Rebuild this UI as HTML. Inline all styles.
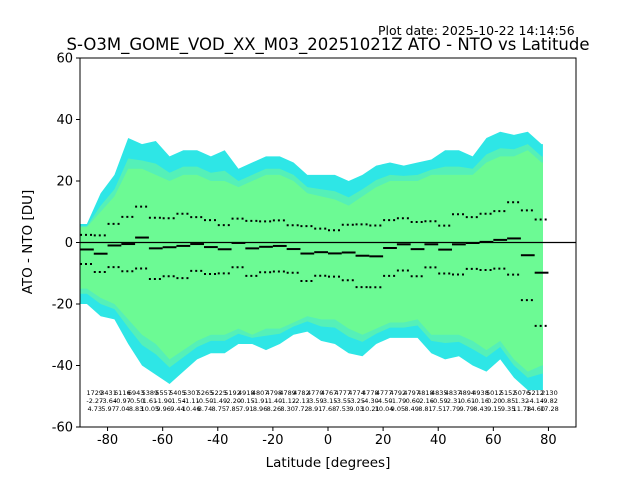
<!DOCTYPE html>
<html><head><meta charset="utf-8"><style>
body{margin:0;background:#fff}
svg{display:block;font-family:"DejaVu Sans","Liberation Sans",sans-serif}
</style></head><body>
<svg id="chart" width="640" height="480">
<text x="378" y="35" font-size="12.5">Plot date: 2025-10-22 14:14:56</text>
<text x="328" y="50" font-size="16.5" text-anchor="middle">S-O3M_GOME_VOD_XX_M03_20251021Z ATO - NTO vs Latitude</text>
<g id="plot"></g>
<text x="328" y="467" font-size="13.5" text-anchor="middle">Latitude [degrees]</text>
<text x="32" y="242" font-size="13.5" text-anchor="middle" transform="rotate(-90 32 242)">ATO - NTO [DU]</text>
</svg>
<script>
const binStart=[-90,-85,-80,-75,-70,-65,-60,-55,-50,-45,-40,-35,-30,-25,-20,-15,-10,-5,0,5,10,15,20,25,30,35,40,45,50,55,60,65,70,75];
const counts=[1729,3431,6116,6943,5389,5557,5405,5307,5265,5225,5192,4918,4807,4798,4789,4782,4770,4767,4777,4774,4778,4777,4792,4797,4818,4835,4837,4894,4938,5012,5152,5076,5212,2130];
const means=[-2.27,-3.64,-0.97,-0.50,1.61,-1.90,-1.54,-1.11,-0.50,-1.49,-2.20,-0.15,-1.91,-1.40,-1.12,-2.13,-3.59,-3.15,-3.55,-3.25,-4.30,-4.50,-1.79,-0.60,-2.16,-0.59,-2.31,-0.61,-0.16,0.20,0.85,1.32,-4.14,-9.82];
const stds=[4.73,5.97,7.04,8.83,10.05,9.96,9.44,10.46,8.74,8.75,7.85,7.91,8.96,8.26,8.30,7.72,8.91,7.68,7.53,9.03,10.21,10.04,9.05,8.49,8.81,7.51,7.79,9.79,8.43,9.15,9.35,11.78,14.60,17.28];
const maxVals=[6,16,22,34,32,33,28,30,30,28,30,24,26,28,28,26,22,22,22,20,22,25,26,25,26,27,30,30,28,34,36,35,36,32];
const minVals=[-20,-24,-25,-33,-40,-43,-46,-42,-38,-36,-36,-33,-33,-35,-33,-30,-29,-32,-33,-36,-37,-33,-31,-31,-31,-36,-38,-37,-40,-42,-38,-44,-48,-48];
const coreHi=[5,10,15,24,24,22,20,22,22,20,20,18,20,22,22,20,16,15,14,12,15,18,20,20,20,22,22,22,22,26,28,28,30,26];
const coreLo=[-15,-18,-20,-25,-30,-33,-38,-35,-32,-30,-30,-28,-30,-28,-28,-26,-24,-25,-25,-28,-30,-28,-26,-26,-25,-30,-30,-30,-32,-35,-32,-38,-42,-40];
const xTicks=[-80,-60,-40,-20,0,20,40,60,80];
const yTicks=[-60,-40,-20,0,20,40,60];

const L=80,R=576,T=58,B=427;
const xs=v=>L+(v+90)/180*(R-L);
const ys=v=>T+(60-v)/120*(B-T);
const NS='http://www.w3.org/2000/svg';
const g=document.getElementById('plot');
function mk(tag,attrs,parent){const e=document.createElementNS(NS,tag);for(const k in attrs)e.setAttribute(k,attrs[k]);(parent||g).appendChild(e);return e;}

function band(hi,lo){
  const n=binStart.length;let pts=[];
  pts.push(xs(binStart[0])+','+ys(hi[0]));
  binStart.forEach((b,i)=>pts.push(xs(b+2.5)+','+ys(hi[i])));
  pts.push(xs(binStart[n-1]+3)+','+ys(hi[n-1]));
  pts.push(xs(binStart[n-1]+3)+','+ys(lo[n-1]));
  for(let i=n-1;i>=0;i--)pts.push(xs(binStart[i]+2.5)+','+ys(lo[i]));
  pts.push(xs(binStart[0])+','+ys(lo[0]));
  return pts.join(' ');
}
const outer=mk('polygon',{points:band(maxVals,minVals),fill:'#2ee6e6'});


const mid=mk('polygon',{points:band(maxVals.map((v,i)=>(v+coreHi[i]*2)/3),minVals.map((v,i)=>(v+coreLo[i]*2)/3)),fill:'#55f0b8'});


const core=mk('polygon',{points:band(coreHi,coreLo),fill:'#6cfa94'});



const z=mk('line',{x1:L,x2:R,y1:ys(0),y2:ys(0),stroke:'#000','stroke-width':1.2});



binStart.forEach((b,i)=>{
  const m=mk('line',{x1:xs(b),x2:xs(b+5),y1:ys(means[i]),y2:ys(means[i]),stroke:'#000','stroke-width':2});
  
  
  [1,-1].forEach(s=>{
    const d=mk('line',{x1:xs(b),x2:xs(b+5),y1:ys(means[i]+s*stds[i]),y2:ys(means[i]+s*stds[i]),stroke:'#000','stroke-width':2,'stroke-dasharray':'2,3'});
    
    
  });
  const cx=xs(b+5)+1;
  [[counts[i],395],[means[i].toFixed(2),403],[stds[i].toFixed(2),411]].forEach(([t,y])=>{
    const tx=mk('text',{x:cx,y:y,'font-size':6.5,'text-anchor':'middle'});
    tx.textContent=t;
    
    
  });
});

const frame=mk('rect',{x:L,y:T,width:R-L,height:B-T,fill:'none',stroke:'#000','stroke-width':1});


xTicks.forEach(v=>{
  mk('line',{x1:xs(v),x2:xs(v),y1:B,y2:B+4,stroke:'#000'});
  const t=mk('text',{x:xs(v),y:B+17,'font-size':13,'text-anchor':'middle'});
  t.textContent=v;
  
  
});
yTicks.forEach(v=>{
  mk('line',{x1:L-4,x2:L,y1:ys(v),y2:ys(v),stroke:'#000'});
  const t=mk('text',{x:L-7,y:ys(v)+4.5,'font-size':13,'text-anchor':'end'});
  t.textContent=v;
  
  
});
</script>
</body></html>
